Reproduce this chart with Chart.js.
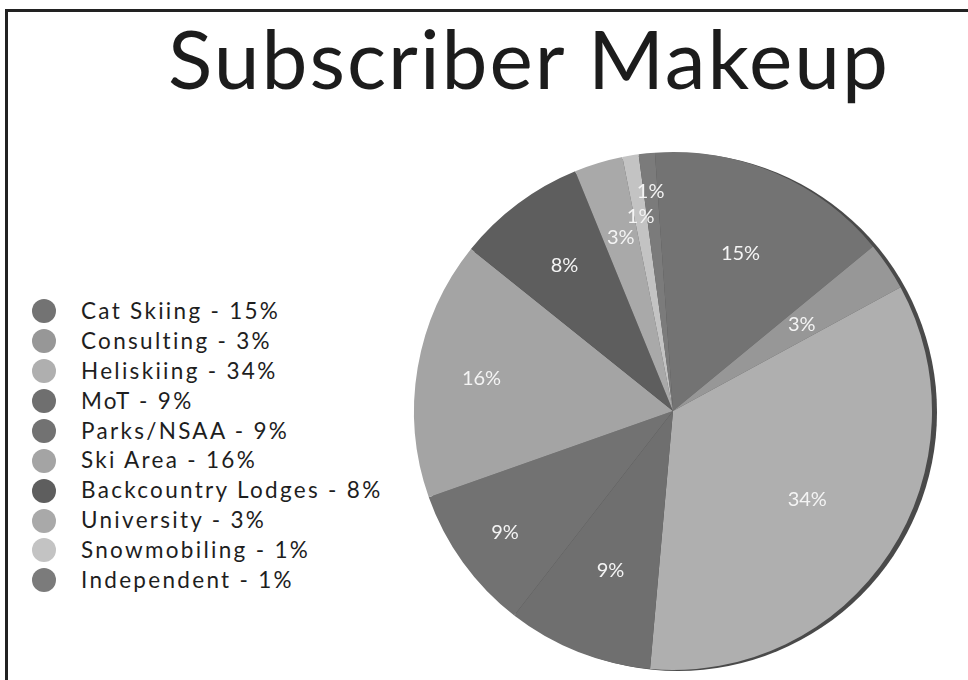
<!DOCTYPE html>
<html>
<head>
<meta charset="utf-8">
<title>Subscriber Makeup</title>
<script src="https://cdn.jsdelivr.net/npm/chart.js@4"></script>
<style>
  body { margin: 0; background: #fff; }
  #wrap { position: relative; width: 968px; height: 680px; overflow: hidden; background: #fff; }
  #frame { position: absolute; left: 5px; top: 9px; right: -10px; bottom: -10px;
           border-left: 3px solid #222; border-top: 3px solid #222; }
  #title { position: absolute; left: 90px; right: 0; top: 16px; margin: 0;
           font: 400 82px/1 Lato, sans-serif; letter-spacing: 2px; color: #1c1c1c; text-align: center; }
  #chart { position: absolute; left: 0; top: 0; }
  #legend { position: absolute; left: 32px; top: 296px; margin: 0; padding: 0; list-style: none;
            font: 400 22.5px Lato, sans-serif; letter-spacing: 2.3px; color: #1e1e1e; }
  #legend li { height: 29.9px; line-height: 29.9px; white-space: nowrap; }
  #legend span { display: inline-block; width: 24px; height: 24px; border-radius: 50%;
                 vertical-align: middle; margin: -4px 25px 0 0; }
</style>
</head>
<body>
<div id="wrap">
  <div id="frame"></div>
  <h1 id="title">Subscriber Makeup</h1>
  <ul id="legend"></ul>
  <canvas id="chart" width="968" height="680"></canvas>
</div>
<script>
// subscriber groups, in the order they go round the pie
const categories = ["Cat Skiing", "Consulting", "Heliskiing", "MoT", "Parks/NSAA",
  "Ski Area", "Backcountry Lodges", "University", "Snowmobiling", "Independent"];
const shares = [15, 3, 34, 9, 9, 16, 8, 3, 1, 1];
const sliceColors = ["#737373", "#979797", "#afafaf", "#6f6f6f", "#727272",
  "#a4a4a4", "#5e5e5e", "#a9a9a9", "#c3c3c3", "#7b7b7b"];

// how far out each percentage sits, as a fraction of the radius
const labelRadius = [0.66, 0.6, 0.62, 0.66, 0.8, 0.75, 0.7, 0.7, 0.76, 0.85];

// legend list on the left
const legendList = document.getElementById("legend");
categories.forEach((name, i) => {
  const li = document.createElement("li");
  li.innerHTML = `<span style="background:${sliceColors[i]}"></span>${name} - ${shares[i]}%`;
  legendList.appendChild(li);
});

// dark rim behind the pie, slightly offset so it shows on the right edge
const pieRim = {
  id: "pieRim",
  beforeDatasetsDraw(chart) {
    const arc = chart.getDatasetMeta(0).data[0];
    if (!arc) return;
    const { ctx } = chart;
    ctx.save();
    ctx.fillStyle = "#4a4a4a";
    ctx.beginPath();
    ctx.arc(arc.x + 5, arc.y + 1, arc.outerRadius, 0, Math.PI * 2);
    ctx.fill();
    ctx.restore();
  }
};

// percentage text inside the slices
const sliceLabels = {
  id: "sliceLabels",
  afterDatasetsDraw(chart) {
    const { ctx } = chart;
    const meta = chart.getDatasetMeta(0);
    ctx.save();
    ctx.font = "400 20px Lato, sans-serif";
    ctx.fillStyle = "#f4f4f4";
    ctx.textAlign = "center";
    ctx.textBaseline = "middle";
    meta.data.forEach((arc, i) => {
      const mid = (arc.startAngle + arc.endAngle) / 2;
      const r = arc.outerRadius * labelRadius[i];
      ctx.fillText(shares[i] + "%", arc.x + Math.cos(mid) * r, arc.y + Math.sin(mid) * r);
    });
    ctx.restore();
  }
};

new Chart(document.getElementById("chart"), {
  type: "pie",
  data: {
    labels: categories,
    datasets: [{
      data: shares,
      backgroundColor: sliceColors,
      borderWidth: 0
    }]
  },
  options: {
    responsive: false,
    animation: false,
    rotation: -4,
    layout: { padding: { top: 152, bottom: 10, left: 396, right: 18 } },
    plugins: {
      legend: { display: false },
      title: { display: false },
      tooltip: { enabled: false }
    }
  },
  plugins: [pieRim, sliceLabels]
});
</script>
</body>
</html>
